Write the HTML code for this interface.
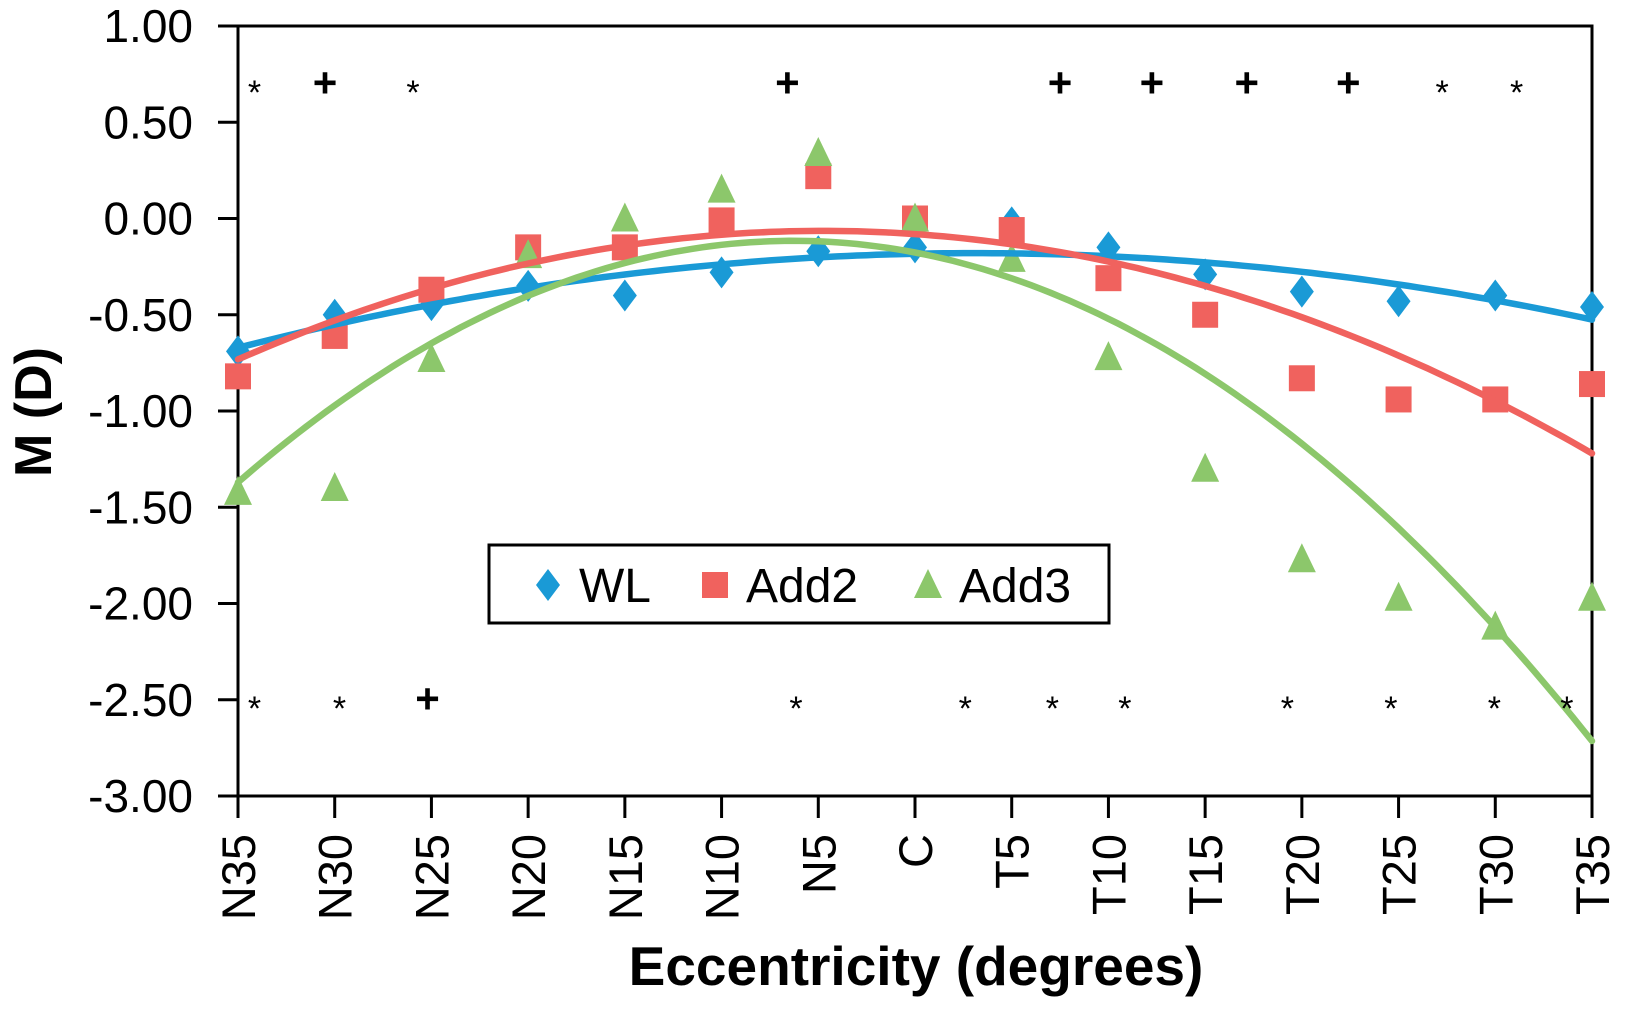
<!DOCTYPE html>
<html><head><meta charset="utf-8"><style>
html,body{margin:0;padding:0;background:#fff;}
svg{display:block;font-family:"Liberation Sans",Arial,sans-serif;}
</style></head><body>
<svg id="chart" width="1634" height="1013" viewBox="0 0 1634 1013" xmlns="http://www.w3.org/2000/svg">
<g id="plot"></g>
</svg>
<script>
const categories=["N35","N30","N25","N20","N15","N10","N5","C","T5","T10","T15","T20","T25","T30","T35"];
const wl=[-0.69,-0.50,-0.45,-0.35,-0.40,-0.28,-0.17,-0.15,-0.02,-0.15,-0.29,-0.38,-0.43,-0.40,-0.46];
const add2=[-0.82,-0.61,-0.37,-0.15,-0.15,-0.01,0.22,0.00,-0.06,-0.31,-0.50,-0.83,-0.94,-0.94,-0.86];
const add3=[-1.42,-1.40,-0.73,-0.19,0.00,0.15,0.34,0.00,-0.21,-0.72,-1.30,-1.77,-1.97,-2.12,-1.97];
const yTicks=[1.00,0.50,0.00,-0.50,-1.00,-1.50,-2.00,-2.50,-3.00];
const topMarks=[["*",0.17],["+",0.9],["*",1.81],["+",5.68],["+",8.5],["+",9.45],["+",10.43],["+",11.48],["*",12.45],["*",13.22]];
const bottomMarks=[["*",0.17],["*",1.05],["+",1.96],["*",5.77],["*",7.52],["*",8.42],["*",9.17],["*",10.85],["*",11.92],["*",12.99],["*",13.74]];
const topRowY=0.70, bottomRowY=-2.50;

const NS="http://www.w3.org/2000/svg";
const L=238,R=1592,T=26,B=796,ymin=-3,ymax=1;
const x=i=>L+i*(R-L)/(categories.length-1);
const y=v=>B-(v-ymin)/(ymax-ymin)*(B-T);
const g=document.getElementById('plot');
function el(tag,attrs,parent){const e=document.createElementNS(NS,tag);for(const k in attrs)e.setAttribute(k,attrs[k]);(parent||g).appendChild(e);return e;}

const fr=el('rect',{x:L,y:T,width:R-L,height:B-T,fill:'none',stroke:'#000','stroke-width':3});



yTicks.forEach(v=>{
  const t=el('line',{x1:L-20,x2:L,y1:y(v),y2:y(v),stroke:'#000','stroke-width':3});
  
  
  const tx=el('text',{x:L-45,y:y(v)+16,'text-anchor':'end','font-size':46});
  tx.textContent=v.toFixed(2);
  
  
});
categories.forEach((c,i)=>{
  const t=el('line',{x1:x(i),x2:x(i),y1:B,y2:B+22,stroke:'#000','stroke-width':3});
  
  
  const tx=el('text',{x:0,y:0,'text-anchor':'end','font-size':47,transform:`translate(${x(i)+17},834) rotate(-90)`});
  tx.textContent=c;
  
  
});

function fit(vals){
  let S=[0,0,0,0,0],Sy=[0,0,0];
  vals.forEach((v,i)=>{let p=1;for(let k=0;k<5;k++){S[k]+=p;if(k<3)Sy[k]+=v*p;p*=i;}});
  const A=[[S[0],S[1],S[2],Sy[0]],[S[1],S[2],S[3],Sy[1]],[S[2],S[3],S[4],Sy[2]]];
  for(let c=0;c<3;c++){for(let r=c+1;r<3;r++){const f=A[r][c]/A[c][c];for(let k=c;k<4;k++)A[r][k]-=f*A[c][k];}}
  const s=[0,0,0];for(let r=2;r>=0;r--){let v=A[r][3];for(let k=r+1;k<3;k++)v-=A[r][k]*s[k];s[r]=v/A[r][r];}
  return s;
}
const series=[["wl",wl,"#1a9ad6"],["add2",add2,"#f0625e"],["add3",add3,"#8cc76b"]];
function marker(kind,cx,cy,col,parent){
  if(kind==="wl") return el('polygon',{points:`${cx},${cy-16} ${cx+12},${cy} ${cx},${cy+16} ${cx-12},${cy}`,fill:col},parent);
  if(kind==="add2") return el('rect',{x:cx-13,y:cy-13,width:26,height:26,fill:col},parent);
  return el('polygon',{points:`${cx},${cy-16} ${cx+14},${cy+13} ${cx-14},${cy+13}`,fill:col},parent);
}
series.forEach(([k,vals,col])=>{
  vals.forEach((v,i)=>{
    const m=marker(k,x(i),y(v),col);
    
    
  });
});
series.forEach(([k,vals,col])=>{
  const c=fit(vals);let d="";
  for(let t=0;t<=140;t++){const i=t/10;const v=c[0]+c[1]*i+c[2]*i*i;d+=(t?"L":"M")+x(i).toFixed(1)+","+y(v).toFixed(1);}
  const p=el('path',{d:d,fill:'none',stroke:col,'stroke-width':6.5,'stroke-linecap':'round'});
  
  
});
function sig(list,val,name){
  list.forEach(([s,i])=>{
    const px=L+i*(R-L)/(categories.length-1);
    const t=el('text',{x:px,y:y(val)+(s==="+"?13:20),'text-anchor':'middle','font-size':s==="+"?42:34,'font-weight':s==="+"?'bold':'normal'});
    t.textContent=s;
    
    
  });
}
sig(topMarks,topRowY,'significance-top');
sig(bottomMarks,bottomRowY,'significance-bottom');

const lg=el('g',{});


el('rect',{x:489,y:545,width:620,height:78,fill:'#fff',stroke:'#000','stroke-width':3},lg);
[["wl","WL",548,"#1a9ad6"],["add2","Add2",715,"#f0625e"],["add3","Add3",928,"#8cc76b"]].forEach(([k,lab,lx,col])=>{
  const e=el('g',{},lg);
  
  
  marker(k,lx,585,col,e);
  const t=el('text',{x:lx+31,y:602,'font-size':48},e);
  t.textContent=lab;
});

const xt=el('text',{x:916,y:985,'text-anchor':'middle','font-size':55,'font-weight':'bold'});
xt.textContent="Eccentricity (degrees)";


const yt=el('text',{x:0,y:0,'text-anchor':'middle','font-size':52,'font-weight':'bold',transform:'translate(51,412) rotate(-90)'});
yt.textContent="M (D)";


</script>
</body></html>
